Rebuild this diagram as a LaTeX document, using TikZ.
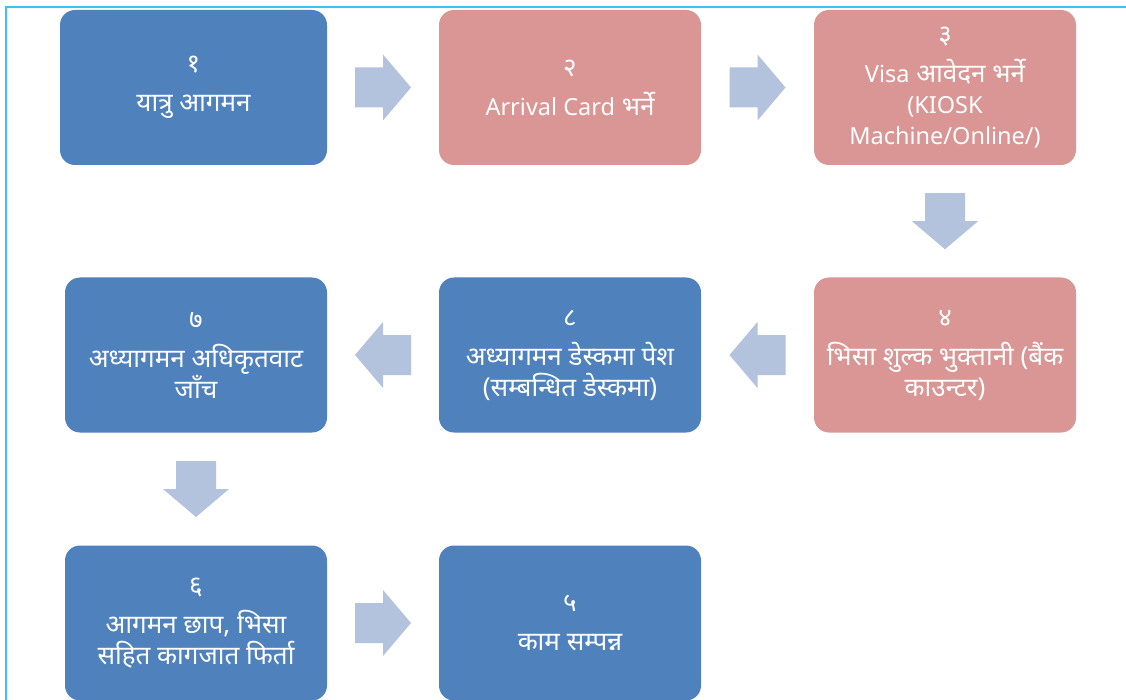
\documentclass[tikz,border=0pt]{standalone}
\usepackage{fontspec}
\newfontfamily\deva[Script=Devanagari]{Noto Sans}
\newfontfamily\latn{Noto Sans}
\newcommand{\lt}[1]{{\latn\fontsize{23.5}{31}\selectfont #1}}
\usetikzlibrary{calc}
\definecolor{boxblue}{HTML}{4F81BD}
\definecolor{boxpink}{HTML}{D99694}
\definecolor{arrowfill}{HTML}{B3C2DD}
\definecolor{framecol}{RGB}{56,198,240}
\tikzset{
  stepbox/.style={rounded corners=15pt, draw=none, text=white, align=center,
    minimum width=262pt, minimum height=155pt, inner sep=0pt,
    font=\deva\fontsize{26}{31}\selectfont},
  bluebox/.style={stepbox, fill=boxblue},
  pinkbox/.style={stepbox, fill=boxpink},
  blockarr/.pic={\fill[arrowfill] (-28,-20) -- (0,-20) -- (0,-33) -- (28,0)
     -- (0,33) -- (0,20) -- (-28,20) -- cycle;},
}
\begin{document}
\begin{tikzpicture}[x=1pt,y=-1pt]
\useasboundingbox (0,0) rectangle (1126,700);
% frame lines
\draw[framecol, line width=2pt] (6,700) -- (6,7) -- (1126,7);
% boxes
\node[bluebox, minimum width=267pt] (b1) at (193.5,87.5) {१\\[8pt]यात्रु आगमन};
\node[pinkbox] (b2) at (570,87.5) {२\\[8pt]\lt{Arrival Card} भर्ने};
\node[pinkbox] (b3) at (945,87.5) {३\\[8pt]\lt{Visa} आवेदन भर्ने\\\lt{(KIOSK}\\\lt{Machine/Online/)}};
\node[pinkbox] (b4) at (945,355) {४\\[8pt]भिसा शुल्क भुक्तानी (बैंक\\काउन्टर)};
\node[bluebox] (b8) at (570,355) {८\\[8pt]अध्यागमन डेस्कमा पेश\\(सम्बन्धित डेस्कमा)};
\node[bluebox] (b7) at (196,355) {७\\[8pt]अध्यागमन अधिकृतवाट\\जाँच};
\node[bluebox] (b6) at (196,623) {६\\[8pt]आगमन छाप, भिसा\\सहित कागजात फिर्ता};
\node[bluebox] (b5) at (570,623) {५\\[8pt]काम सम्पन्न};
% block arrows between boxes
\coordinate (a12) at ($(b1.east)!0.5!(b2.west)$);
\coordinate (a23) at ($(b2.east)!0.5!(b3.west)$);
\coordinate (a34) at ($(b3.south)!0.5!(b4.north)$);
\coordinate (a48) at ($(b8.east)!0.5!(b4.west)$);
\coordinate (a87) at ($(b7.east)!0.5!(b8.west)$);
\coordinate (a76) at ($(b7.south)!0.5!(b6.north)$);
\coordinate (a65) at ($(b6.east)!0.5!(b5.west)$);
\pic at (a12) {blockarr};
\pic at (a23) {blockarr};
\pic[rotate=-90] at (a34) {blockarr};
\pic[rotate=180] at (a48) {blockarr};
\pic[rotate=180] at (a87) {blockarr};
\pic[rotate=-90] at (a76) {blockarr};
\pic at (a65) {blockarr};
\end{tikzpicture}
\end{document}
